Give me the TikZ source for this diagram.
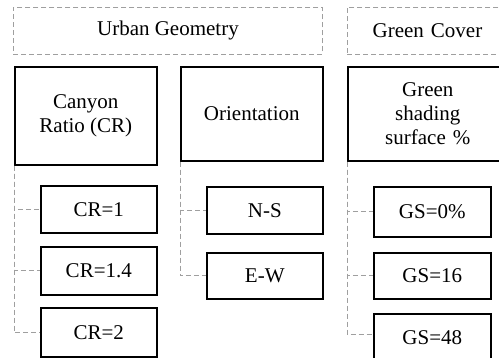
\documentclass[tikz,border=0pt]{standalone}
\usepackage{fontspec}
\setmainfont{Liberation Serif}
\begin{document}
\begin{tikzpicture}[x=1pt,y=-1pt,
  txt/.style={font=\fontsize{21}{24}\selectfont, align=center, inner sep=0pt},
  grpbox/.style={txt, draw=gray!75, line width=0.9pt, dash pattern=on 5pt off 3pt, anchor=north west},
  mainbox/.style={txt, draw=black, line width=1.6pt, anchor=north west},
  link/.style={draw=gray!75, line width=0.9pt, dash pattern=on 5pt off 3pt}]
\path[use as bounding box, clip] (0,0) rectangle (499,358);
% group headers
\node[grpbox, minimum width=309pt, minimum height=47pt] (ug) at (13,7) {Urban Geometry};
\node[grpbox, minimum height=47pt, text width=200pt, align=left] (gc) at (347,7) {\makebox[160pt]{Green Cover}};
% parents
\node[mainbox, minimum width=142pt, minimum height=98pt] (cr) at (14,66) {Canyon\\Ratio (CR)};
\node[mainbox, minimum width=142pt, minimum height=94pt] (or) at (180,66) {Orientation};
\node[mainbox, minimum height=94pt, text width=200pt, align=left] (gs) at (347,66) {\makebox[160pt]{Green}\\\makebox[160pt]{shading}\\\makebox[160pt]{surface \%}};
% children
\node[mainbox, minimum width=116pt, minimum height=47pt] (cr1) at (40,185) {CR=1};
\node[mainbox, minimum width=116pt, minimum height=48pt] (cr2) at (40,246) {CR=1.4};
\node[mainbox, minimum width=116pt, minimum height=49pt] (cr3) at (40,307) {CR=2};
\node[mainbox, minimum width=116pt, minimum height=47pt] (ns) at (206,186) {N-S};
\node[mainbox, minimum width=116pt, minimum height=46pt] (ew) at (206,252) {E-W};
\node[mainbox, minimum width=117pt, minimum height=50pt] (g0) at (373,186) {GS=0\%};
\node[mainbox, minimum width=117pt, minimum height=46pt] (g1) at (373,252) {GS=16};
\node[mainbox, minimum width=117pt, minimum height=60pt] (g2) at (373,313) {};
\node[txt] (g2t) at ([yshift=-25pt]g2.north) {GS=48};
% links
\draw[link] (cr.south west) |- (cr1.west);
\draw[link] (cr.south west) |- (cr2.west);
\draw[link] (cr.south west) |- (cr3.west);
\draw[link] (or.south west) |- (ns.west);
\draw[link] (or.south west) |- (ew.west);
\draw[link] (gs.south west) |- (g0.west);
\draw[link] (gs.south west) |- (g1.west);
\draw[link] (gs.south west) |- ([yshift=-21pt]g2.north west);
\end{tikzpicture}
\end{document}
